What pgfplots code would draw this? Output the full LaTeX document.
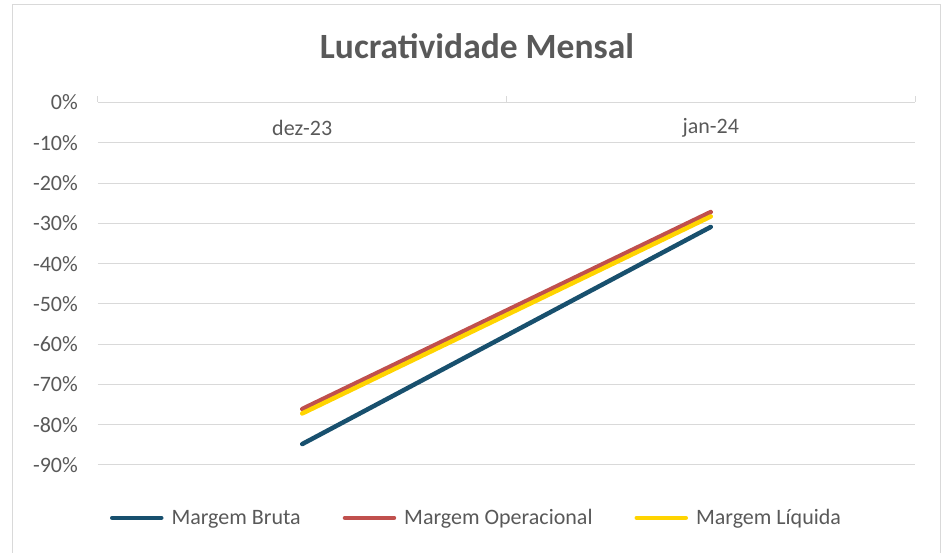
\documentclass[border=0pt]{standalone}
\usepackage{pgfplots}
\pgfplotsset{compat=1.18}
\usepackage{fontspec}
\setmainfont{Carlito}
\definecolor{cbruta}{RGB}{24,80,110}
\definecolor{coper}{RGB}{192,80,77}
\definecolor{cliq}{RGB}{255,212,0}
\definecolor{txtgray}{RGB}{89,89,89}
\definecolor{gridgray}{RGB}{217,217,217}
\begin{document}
\begin{tikzpicture}[x=1pt,y=1pt]
\useasboundingbox (0,0) rectangle (943,553);
\draw[gridgray, line width=1pt] (12,-5) rectangle (940,548);
\node[font=\fontsize{35.5}{40}\selectfont\bfseries, text=txtgray] at (477,507) {Lucratividade Mensal};
\begin{axis}[
  at={(98pt,88pt)}, anchor=south west,
  scale only axis, width=817pt, height=362.5pt,
  xmin=-0.5, xmax=1.5, ymin=-0.9, ymax=0,
  axis line style={draw=none},
  ytick={-0.9,-0.8,-0.7,-0.6,-0.5,-0.4,-0.3,-0.2,-0.1,0},
  yticklabels={-90\%,-80\%,-70\%,-60\%,-50\%,-40\%,-30\%,-20\%,-10\%,0\%},
  ymajorgrids, grid style={gridgray, line width=1pt},
  major tick length=6pt,
  ytick style={draw=none},
  yticklabel style={font=\fontsize{22}{26}\selectfont, text=txtgray, anchor=east, inner sep=0pt, xshift=-20pt},
  xtick={-0.5,0.5,1.5}, xticklabels={}, xtick pos=upper, xtick align=outside,
  xtick style={gridgray, line width=1pt},
  extra x ticks={0,1}, extra x tick labels={dez-23,jan-24},
  extra x tick style={xticklabel pos=upper, tick style={draw=none},
     xticklabel style={font=\fontsize{22}{26}\selectfont, text=txtgray, anchor=center, yshift=-31pt}},
  legend columns=3,
  legend style={draw=none, fill=none, inner sep=0pt, outer sep=0pt,
    at={(0.0147,-0.146)}, anchor=west,
    font=\fontsize{22}{26}\selectfont, text=txtgray,
    nodes={inner sep=0pt},
    /tikz/every odd column/.append style={column sep=8pt},
    /tikz/every even column/.append style={column sep=42pt}},
  legend image code/.code={\draw[#1, line cap=round] (0pt,0pt) -- (49pt,0pt);},
  clip=false,
]
\addplot[cbruta, line width=4.5pt, line cap=round] coordinates {(0,-0.848) (1,-0.309)};
\addlegendentry{Margem Bruta}
\addplot[coper, line width=4.5pt, line cap=round] coordinates {(0,-0.761) (1,-0.272)};
\addlegendentry{Margem Operacional}
\addplot[cliq, line width=4.5pt, line cap=round] coordinates {(0,-0.772) (1,-0.283)};
\addlegendentry{Margem Líquida}
\end{axis}
\end{tikzpicture}
\end{document}
